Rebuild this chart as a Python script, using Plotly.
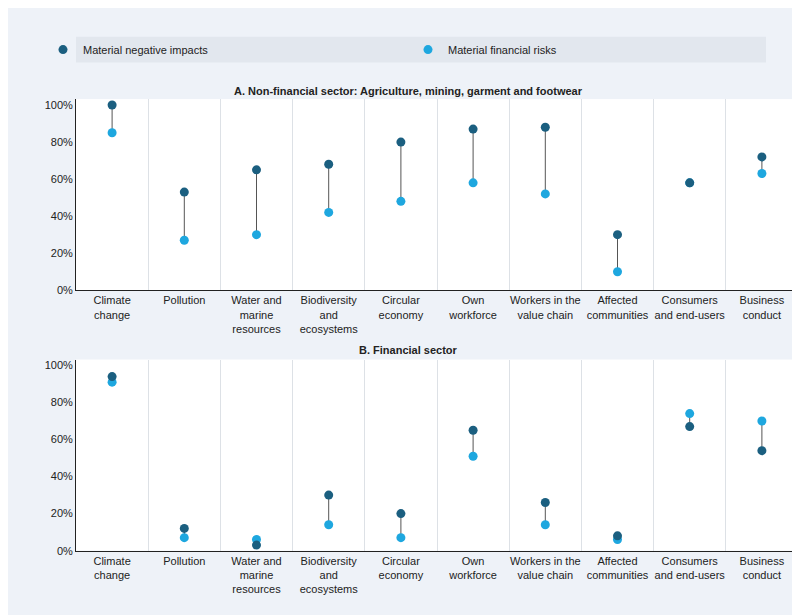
import plotly.graph_objects as go

categories = ["Climate change", "Pollution", "Water and marine resources", "Biodiversity and ecosystems",
              "Circular economy", "Own workforce", "Workers in the value chain", "Affected communities",
              "Consumers and end-users", "Business conduct"]
tick_labels = ["Climate<br>change", "Pollution", "Water and<br>marine<br>resources", "Biodiversity<br>and<br>ecosystems",
               "Circular<br>economy", "Own<br>workforce", "Workers in the<br>value chain", "Affected<br>communities",
               "Consumers<br>and end-users", "Business<br>conduct"]
a_impacts = [100, 53, 65, 68, 80, 87, 88, 30, 58, 72]
a_risks = [85, 27, 30, 42, 48, 58, 52, 10, 58, 63]
b_impacts = [94, 12, 3, 30, 20, 65, 26, 8, 67, 54]
b_risks = [91, 7, 6, 14, 7, 51, 14, 6, 74, 70]

DARK = "#1b5f80"
LIGHT = "#1ea7df"
W, H = 800, 615
fig = go.Figure()

def add_panel(imp, risk, xa, ya, show):
    xs, ys = [], []
    for c, i, r in zip(categories, imp, risk):
        xs += [c, c, None]
        ys += [i / 100, r / 100, None]
    fig.add_trace(go.Scatter(x=xs, y=ys, mode="lines", line=dict(color="#555555", width=1),
                             xaxis=xa, yaxis=ya, showlegend=False, hoverinfo="skip"))
    fig.add_trace(go.Scatter(x=categories, y=[v / 100 for v in risk], mode="markers",
                             marker=dict(color=LIGHT, size=9), name="Material financial risks",
                             xaxis=xa, yaxis=ya, showlegend=False))
    fig.add_trace(go.Scatter(x=categories, y=[v / 100 for v in imp], mode="markers",
                             marker=dict(color=DARK, size=9), name="Material negative impacts",
                             xaxis=xa, yaxis=ya, showlegend=show, legendrank=1))
    if show:
        fig.add_trace(go.Scatter(x=[None], y=[None], mode="markers", marker=dict(color=LIGHT, size=9),
                                 name="Material financial risks", xaxis=xa, yaxis=ya, legendrank=2))

add_panel(a_impacts, a_risks, "x", "y", True)
add_panel(b_impacts, b_risks, "x2", "y2", False)

xd = [68 / W, 790 / W]
xcommon = dict(type="category", categoryorder="array", categoryarray=categories, tickvals=categories,
               ticktext=tick_labels, tickson="boundaries", showgrid=True, gridcolor="#dde1e6",
               showline=True, linecolor="#222", linewidth=1, ticks="", domain=xd, tickangle=0,
               tickfont=dict(size=11, color="#222"), range=[-0.5, 9.5], mirror=False)
ycommon = dict(range=[0, 1.032], tickvals=[0, 0.2, 0.4, 0.6, 0.8, 1.0], tickformat=".0%",
               showgrid=False, showline=True, linecolor="#222", zeroline=False,
               tickfont=dict(size=11, color="#222"), ticks="")
fig.update_layout(
    width=W, height=H, margin=dict(l=0, r=0, t=0, b=0),
    paper_bgcolor="#eef2f8", plot_bgcolor="#ffffff",
    font=dict(family="Liberation Sans, Arial", size=11, color="#222"),
    xaxis=dict(xcommon, anchor="y"), yaxis=dict(ycommon, domain=[1 - 285 / H, 1 - 92 / H], anchor="x"),
    xaxis2=dict(xcommon, anchor="y2"), yaxis2=dict(ycommon, domain=[1 - 548 / H, 1 - 355 / H], anchor="x2"),
    legend=dict(orientation="h", x=0.5, xanchor="center", y=1 - 42 / H, yanchor="middle",
                bgcolor="rgba(0,0,0,0)", font=dict(size=11), itemwidth=30, tracegroupgap=0,
                entrywidthmode="pixels", entrywidth=320),
    shapes=[dict(type="rect", xref="paper", yref="paper", x0=68 / W, x1=758 / W,
                 y0=1 - 55 / H, y1=1 - 29 / H, fillcolor="#e2e7ee", line=dict(width=0), layer="below")],
    annotations=[
        dict(text="<b>A. Non-financial sector: Agriculture, mining, garment and footwear</b>", xref="paper",
             yref="paper", x=0.5, y=1 - 76 / H, showarrow=False, font=dict(size=11)),
        dict(text="<b>B. Financial sector</b>", xref="paper", yref="paper", x=0.5, y=1 - 345 / H,
             showarrow=False, font=dict(size=11)),
    ],
)
fig.write_html("out.html")
